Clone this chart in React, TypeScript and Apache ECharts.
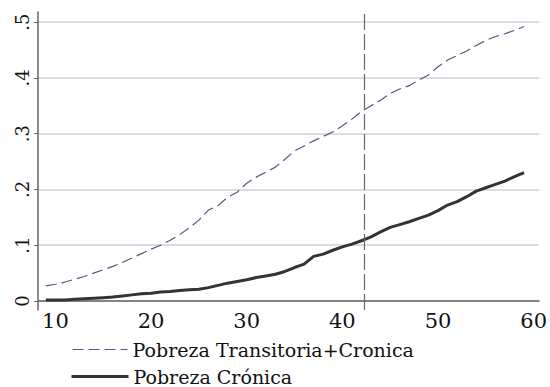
import React, { useEffect, useRef } from "react";
import * as echarts from "echarts";

const ages = [
  9, 10, 11, 12, 13, 14, 15, 16, 17, 18, 19, 20, 21, 22, 23, 24, 25, 26, 27, 28,
  29, 30, 31, 32, 33, 34, 35, 36, 37, 38, 39, 40, 41, 42, 43, 44, 45, 46, 47, 48,
  49, 50, 51, 52, 53, 54, 55, 56, 57, 58, 59,
];

const transitoriaCronica = [
  0.027, 0.03, 0.034, 0.039, 0.044, 0.05, 0.056, 0.062, 0.069, 0.077, 0.085,
  0.093, 0.1, 0.109, 0.119, 0.131, 0.145, 0.163, 0.171, 0.186, 0.195, 0.211,
  0.222, 0.231, 0.24, 0.254, 0.269, 0.278, 0.287, 0.295, 0.303, 0.314, 0.326,
  0.34, 0.35, 0.36, 0.372, 0.38, 0.386, 0.396, 0.405, 0.42, 0.432, 0.44, 0.448,
  0.458, 0.467, 0.474, 0.479, 0.485, 0.492,
];

const cronica = [
  0.002, 0.002, 0.002, 0.003, 0.004, 0.005, 0.006, 0.007, 0.009, 0.011, 0.013,
  0.014, 0.016, 0.017, 0.019, 0.02, 0.021, 0.024, 0.028, 0.032, 0.035, 0.038,
  0.042, 0.045, 0.048, 0.053, 0.06, 0.066, 0.08, 0.084, 0.091, 0.097, 0.102,
  0.108, 0.115, 0.124, 0.132, 0.137, 0.142, 0.148, 0.154, 0.162, 0.172, 0.178,
  0.187, 0.197, 0.203, 0.209, 0.215, 0.223, 0.23,
];

const xTicks = [10, 20, 30, 40, 50, 60];
const yTicks = [0, 0.1, 0.2, 0.3, 0.4, 0.5];
const cutoffAge = 42.24;

const seriesNames = ["Pobreza Transitoria+Cronica", "Pobreza Crónica"];

const FONT = "'DejaVu Serif', 'DejaVu Sans', sans-serif";
const PURPLE = "#6a4b82";
const DARK = "#333333";

const legendBase = {
  orient: "horizontal",
  left: 72,
  itemWidth: 55,
  itemHeight: 14,
  itemGap: 7,
  padding: 0,
  itemStyle: { opacity: 0 },
  textStyle: { fontFamily: FONT, fontSize: 19, lineHeight: 19, color: "#111111" },
};

export default function App() {
  const ref = useRef<HTMLDivElement>(null);

  useEffect(() => {
    if (!ref.current) return;
    const chart = echarts.init(ref.current, null, { renderer: "svg" });
    chart.setOption({
      animation: false,
      backgroundColor: "#ffffff",
      grid: { left: 38, right: 9, top: 12, bottom: 77, containLabel: false },
      xAxis: {
        type: "value",
        min: 8.18,
        max: 60.57,
        axisLine: { show: true, lineStyle: { color: "#666666", width: 1.5 } },
        axisTick: { show: false, customValues: xTicks },
        splitLine: { show: false },
        axisLabel: {
          customValues: xTicks,
          margin: 0,
          color: "#111111",
          fontFamily: FONT,
          fontSize: 21,
        },
      },
      yAxis: {
        type: "value",
        min: -0.0161,
        max: 0.518,
        axisLine: { show: true, lineStyle: { color: "#666666", width: 1.5 } },
        axisTick: {
          show: true,
          customValues: yTicks,
          length: 4,
          lineStyle: { color: "#666666", width: 1 },
        },
        splitLine: {
          show: true,
          lineStyle: { color: "#dcdce2", width: 2 },
        },
        axisLabel: {
          customValues: yTicks,
          rotate: 90,
          margin: 7,
          color: "#111111",
          fontFamily: FONT,
          fontSize: 18,
          formatter: (v: number) =>
            v === 0 ? "0" : "." + String(Math.round(v * 10)),
        },
      },
      legend: [
        {
          ...legendBase,
          top: 340,
          data: [seriesNames[0]],
          lineStyle: { color: PURPLE, width: 1.2, type: [11, 5] },
        },
        {
          ...legendBase,
          left: 70,
          itemWidth: 57,
          top: 367,
          data: [seriesNames[1]],
          lineStyle: { color: DARK, width: 3, type: "solid" },
        },
      ],
      series: [
        {
          name: seriesNames[0],
          type: "line",
          symbol: "none",
          data: ages.map((a, i) => [a, transitoriaCronica[i]]),
          lineStyle: { color: PURPLE, width: 1.2, type: [11, 5] },
          itemStyle: { color: PURPLE },
          markLine: {
            silent: true,
            symbol: "none",
            label: { show: false },
            lineStyle: { color: "#666666", width: 1.2, type: [16, 4] },
            data: [{ xAxis: cutoffAge }],
          },
          z: 3,
        },
        {
          name: seriesNames[1],
          type: "line",
          symbol: "none",
          data: ages.map((a, i) => [a, cronica[i]]),
          lineStyle: { color: DARK, width: 3 },
          itemStyle: { color: DARK },
          z: 4,
        },
      ],
    });
    return () => chart.dispose();
  }, []);

  return (
    <div
      ref={ref}
      style={{ position: "fixed", left: 0, top: 0, width: 550, height: 387 }}
    />
  );
}
